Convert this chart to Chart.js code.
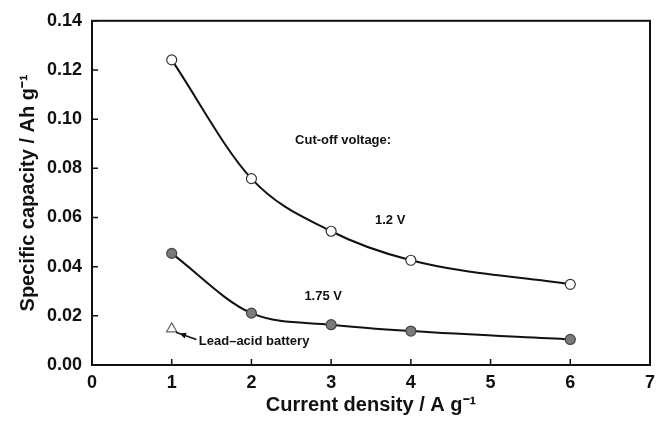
<!DOCTYPE html>
<html>
<head>
<meta charset="utf-8">
<script src="https://cdn.jsdelivr.net/npm/chart.js@4"></script>
<style>
  html, body { margin: 0; padding: 0; background: #fff; }
  #wrap { width: 664px; height: 433px; position: relative; }
</style>
</head>
<body>
<div id="wrap"><canvas id="capacityChart"></canvas></div>
<script>
// current density (A/g)
const currentDensity = [1, 2, 3, 4, 6];
// specific capacity (Ah/g) at two cut-off voltages
const capacity12V = [0.1241, 0.0758, 0.0544, 0.0426, 0.0328];
const capacity175V = [0.0454, 0.0211, 0.0164, 0.0138, 0.0104];
// lead-acid reference point
const leadAcidX = [1];
const leadAcidY = [0.0147];

const xTicks = [0, 1, 2, 3, 4, 5, 6, 7];
const yTicks = [0, 0.02, 0.04, 0.06, 0.08, 0.10, 0.12, 0.14];

// text labels inside the plot, in data units
const notes = [
  { text: "Cut-off voltage:", x: 3.15, y: 0.0915, align: "center" },
  { text: "1.2 V", x: 3.74, y: 0.059, align: "center" },
  { text: "1.75 V", x: 2.9, y: 0.0277, align: "center" },
  { text: "Lead\u2013acid battery", x: 1.34, y: 0.0096, align: "left" }
];
const arrowFrom = { x: 1.31, y: 0.0104 };
const arrowTo = { x: 1.1, y: 0.0128 };

const FONT = "'Liberation Sans', Arial, sans-serif";

function toPoints(xs, ys) {
  return xs.map(function (x, i) { return { x: x, y: ys[i] }; });
}

const framePlugin = {
  id: "frame",
  afterDraw: function (chart) {
    const c = chart.ctx;
    const a = chart.chartArea;
    const xs = chart.scales.x;
    const ys = chart.scales.y;
    c.save();
    c.strokeStyle = "#111";
    c.lineWidth = 2;
    c.strokeRect(a.left, a.top, a.right - a.left, a.bottom - a.top);
    c.lineWidth = 1.5;
    c.beginPath();
    xTicks.forEach(function (v) {
      const px = xs.getPixelForValue(v);
      c.moveTo(px, a.bottom);
      c.lineTo(px, a.bottom - 6);
    });
    yTicks.forEach(function (v) {
      const py = ys.getPixelForValue(v);
      c.moveTo(a.left, py);
      c.lineTo(a.left + 6, py);
    });
    c.stroke();

    // notes
    c.fillStyle = "#111";
    c.font = "bold 13px " + FONT;
    c.textBaseline = "middle";
    notes.forEach(function (n) {
      c.textAlign = n.align;
      c.fillText(n.text, xs.getPixelForValue(n.x), ys.getPixelForValue(n.y));
    });

    // arrow to the lead-acid point
    const x1 = xs.getPixelForValue(arrowFrom.x), y1 = ys.getPixelForValue(arrowFrom.y);
    const x2 = xs.getPixelForValue(arrowTo.x), y2 = ys.getPixelForValue(arrowTo.y);
    const ang = Math.atan2(y2 - y1, x2 - x1);
    c.strokeStyle = "#111";
    c.lineWidth = 1.5;
    c.beginPath();
    c.moveTo(x1, y1);
    c.lineTo(x2 + 4 * Math.cos(ang), y2 + 4 * Math.sin(ang));
    c.stroke();
    c.beginPath();
    c.moveTo(x2, y2);
    c.lineTo(x2 - 7 * Math.cos(ang - 0.45), y2 - 7 * Math.sin(ang - 0.45));
    c.lineTo(x2 - 7 * Math.cos(ang + 0.45), y2 - 7 * Math.sin(ang + 0.45));
    c.closePath();
    c.fill();
    c.restore();
  }
};

new Chart(document.getElementById("capacityChart"), {
  type: "line",
  data: {
    datasets: [
      {
        label: "1.2 V",
        data: toPoints(currentDensity, capacity12V),
        borderColor: "#111",
        borderWidth: 2,
        cubicInterpolationMode: "monotone",
        pointRadius: 5,
        pointBackgroundColor: "#fff",
        pointBorderColor: "#333",
        pointBorderWidth: 1.2
      },
      {
        label: "1.75 V",
        data: toPoints(currentDensity, capacity175V),
        borderColor: "#111",
        borderWidth: 2,
        cubicInterpolationMode: "monotone",
        pointRadius: 5,
        pointBackgroundColor: "#7a7a7a",
        pointBorderColor: "#444",
        pointBorderWidth: 1.2
      },
      {
        label: "Lead-acid battery",
        data: toPoints(leadAcidX, leadAcidY),
        showLine: false,
        pointStyle: "triangle",
        pointRadius: 6,
        pointBackgroundColor: "#fff",
        pointBorderColor: "#666",
        pointBorderWidth: 1.2
      }
    ]
  },
  options: {
    responsive: true,
    maintainAspectRatio: false,
    animation: false,
    layout: { padding: { top: 16, right: 14, left: 0, bottom: 0 } },
    plugins: {
      legend: { display: false },
      tooltip: { enabled: false }
    },
    scales: {
      x: {
        type: "linear",
        min: 0,
        max: 7,
        afterFit: function (s) { s.height = 68; },
        afterBuildTicks: function (s) { s.ticks = xTicks.map(function (v) { return { value: v }; }); },
        grid: { display: false, tickLength: 0 },
        border: { display: false },
        ticks: {
          color: "#111",
          padding: 7,
          maxRotation: 0,
          font: { family: FONT, size: 18, weight: "bold" },
          callback: function (v) { return String(v); }
        },
        title: {
          display: true,
          text: "Current density / A g\u207B\u00B9",
          color: "#111",
          padding: { top: 0, bottom: 16 },
          font: { family: FONT, size: 20, weight: "bold" }
        }
      },
      y: {
        type: "linear",
        min: 0,
        max: 0.14,
        afterFit: function (s) { s.width = 92; },
        afterBuildTicks: function (s) { s.ticks = yTicks.map(function (v) { return { value: v }; }); },
        grid: { display: false, tickLength: 0 },
        border: { display: false },
        ticks: {
          color: "#111",
          padding: 10,
          font: { family: FONT, size: 18, weight: "bold" },
          callback: function (v) { return v.toFixed(2); }
        },
        title: {
          display: true,
          text: "Specific capacity / Ah g\u207B\u00B9",
          color: "#111",
          padding: { top: 16, bottom: 0 },
          font: { family: FONT, size: 20, weight: "bold" }
        }
      }
    }
  },
  plugins: [framePlugin]
});
</script>
</body>
</html>
